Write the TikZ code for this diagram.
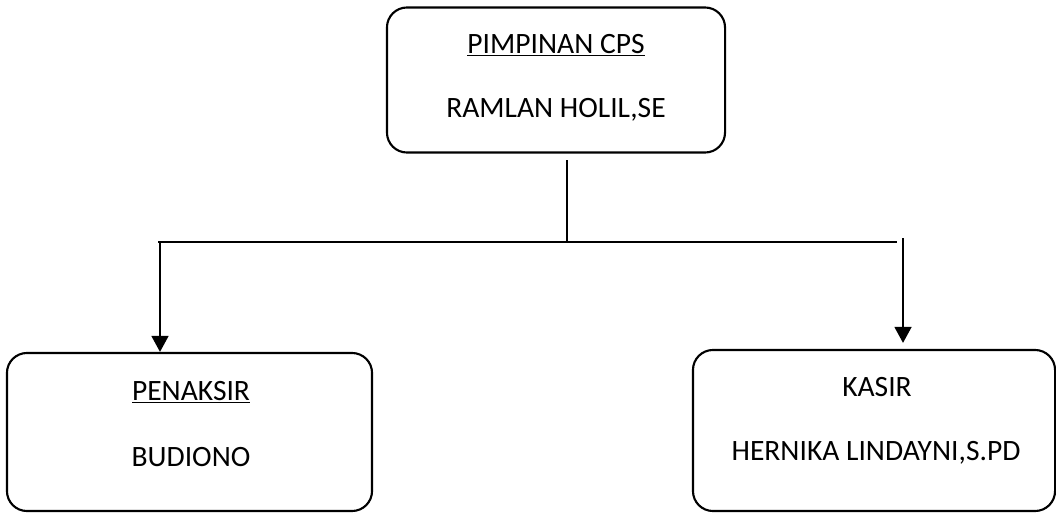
\documentclass[tikz,border=0pt]{standalone}
\usepackage{fontspec}
\setmainfont{Carlito}
\usetikzlibrary{arrows.meta, positioning}
\usepackage{xcolor}

\begin{document}
\begin{tikzpicture}[
x=0.025cm, y=-0.025cm,
box/.style={draw,
rectangle,
rounded corners=0.5cm,
line width=1.5pt,
inner sep=0pt},
txt/.style={font=\fontsize{21}{25}\selectfont, inner sep=0pt},
line/.style={line width=1.5pt},
arrow/.style={-{Triangle[width=0.42cm,length=0.4cm]}, line width=1.5pt}
]

\useasboundingbox (0,0) rectangle (1056,512);

\node[box, minimum width=8.45cm, minimum height=3.625cm] (lead) at (556,80) {};
\node[box, minimum width=9.125cm, minimum height=3.95cm] (appr) at (189.5,432) {};
\node[box, minimum width=9.05cm, minimum height=4.025cm] (cash) at (874,430.5) {};

\node[txt] (lead1) at (556,45) {\underline{PIMPINAN CPS}};
\node[txt] (lead2) at (556,110) {RAMLAN HOLIL,SE};
\node[txt] (appr1) at (191,392) {\underline{PENAKSIR}};
\node[txt] (appr2) at (191,457) {BUDIONO};
\node[txt] (cash1) at (877,387) {KASIR};
\node[txt] (cash2) at (876,453) {HERNIKA LINDAYNI,S.PD};

\coordinate (stem) at (567,160);
\coordinate (join) at (567,242);
\coordinate (left) at (158,242);
\coordinate (right) at (897,242);
\coordinate (down) at (903,238);

\draw[line] (stem) -- (join);
\draw[line] (left) -- (right);
\draw[arrow] ([xshift=0.05cm]left) -- ([xshift=0.05cm]left |- appr.north);
\draw[arrow, shorten >=0.15cm] (down) -- (down |- cash.north);

\end{tikzpicture}
\end{document}
